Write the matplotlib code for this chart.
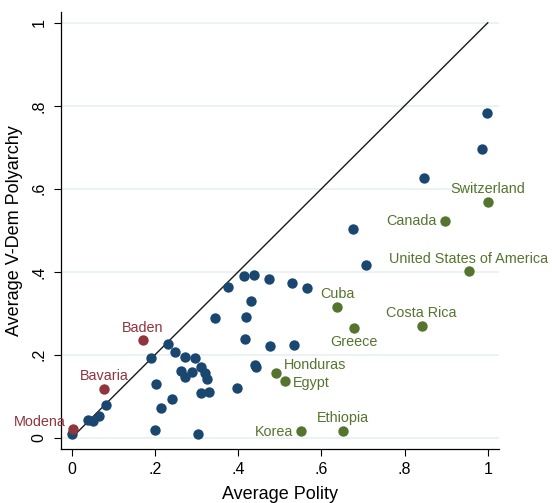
import numpy as np
import matplotlib
matplotlib.use("Agg")
import matplotlib.pyplot as plt

plt.rcParams['font.family'] = ['Liberation Sans', 'DejaVu Sans']

# unlabelled countries (navy)
other_polity = [0.998, 0.987, 0.847, 0.677, 0.707, 0.415, 0.437, 0.474, 0.530, 0.566,
                0.376, 0.431, 0.344, 0.419, 0.417, 0.476, 0.535, 0.231, 0.249, 0.191,
                0.272, 0.297, 0.310, 0.320, 0.324, 0.263, 0.271, 0.289, 0.440, 0.443,
                0.202, 0.310, 0.329, 0.397, 0.241, 0.215, 0.200, 0.303, 0.000, 0.040,
                0.052, 0.066, 0.082]
other_vdem = [0.782, 0.697, 0.625, 0.503, 0.417, 0.390, 0.393, 0.382, 0.372, 0.361,
              0.364, 0.329, 0.288, 0.292, 0.239, 0.221, 0.223, 0.225, 0.206, 0.192,
              0.194, 0.192, 0.170, 0.155, 0.142, 0.161, 0.147, 0.158, 0.175, 0.171,
              0.129, 0.109, 0.110, 0.121, 0.093, 0.071, 0.019, 0.010, 0.009, 0.043,
              0.041, 0.052, 0.079]

# labelled countries (green)
country_names = ["Switzerland", "Canada", "United States of America", "Cuba", "Costa Rica",
                 "Greece", "Honduras", "Egypt", "Korea", "Ethiopia"]
country_polity = [1.000, 0.897, 0.955, 0.638, 0.841, 0.679, 0.492, 0.512, 0.550, 0.652]
country_vdem = [0.567, 0.523, 0.402, 0.315, 0.270, 0.264, 0.155, 0.137, 0.017, 0.017]

# labelled German/Italian states (maroon)
state_names = ["Baden", "Bavaria", "Modena"]
state_polity = [0.171, 0.077, 0.002]
state_vdem = [0.235, 0.118, 0.020]

# label placement: (dx, dy in points, ha)
label_pos = {
    "Switzerland": (0, 9.5, "center"),
    "Canada": (-6, -0.5, "right"),
    "United States of America": (0, 8.8, "center"),
    "Cuba": (0, 9.5, "center"),
    "Costa Rica": (0, 9.5, "center"),
    "Greece": (0, -10, "center"),
    "Honduras": (5.5, 6, "left"),
    "Egypt": (6, -1.2, "left"),
    "Korea": (-5.5, -0.8, "right"),
    "Ethiopia": (0, 9, "center"),
    "Baden": (0, 9, "center"),
    "Bavaria": (0, 9, "center"),
    "Modena": (-5.2, 5.3, "right"),
}

navy = "#1a476f"
green = "#55752f"
maroon = "#90353b"

fig = plt.figure(figsize=(5.52, 5.03), dpi=100)
ax = fig.add_axes([61 / 552, 1 - 449 / 503, 438 / 552, 437 / 503])

for yv in [0, 0.2, 0.4, 0.6, 0.8, 1.0]:
    ax.axhline(yv, color="#e6eff1", lw=1.1, zorder=0)

ms = 56
ax.scatter(other_polity, other_vdem, s=ms, color=navy, lw=0, zorder=3)
ax.scatter(country_polity, country_vdem, s=ms, color=green, lw=0, zorder=3)
ax.scatter(state_polity, state_vdem, s=ms, color=maroon, lw=0, zorder=3)

for names, xs, ys, col in [(country_names, country_polity, country_vdem, green),
                           (state_names, state_polity, state_vdem, maroon)]:
    for n, x, y in zip(names, xs, ys):
        dx, dy, ha = label_pos[n]
        ax.annotate(n, (x, y), xytext=(dx, dy), textcoords="offset points",
                    ha=ha, va="center", fontsize=10.4, color=col, zorder=4)

ax.plot([0, 1], [0, 1], color="#1a1a1a", lw=1.0, zorder=2)

ax.set_xlim(-0.026, 1.027)
ax.set_ylim(-0.027, 1.026)
ticks = [0, 0.2, 0.4, 0.6, 0.8, 1.0]
tick_labels = ["0", ".2", ".4", ".6", ".8", "1"]
ax.set_xticks(ticks)
ax.set_xticklabels(tick_labels)
ax.set_yticks(ticks)
ax.set_yticklabels(tick_labels, rotation=90, va="center")
ax.tick_params(labelsize=11.5, length=5, width=0.8, color="black")
ax.tick_params(axis="x", pad=4.5)
ax.tick_params(axis="y", pad=5.5)

for s in ["top", "right"]:
    ax.spines[s].set_visible(False)
for s in ["left", "bottom"]:
    ax.spines[s].set_linewidth(0.9)

ax.set_xlabel("Average Polity", fontsize=13, labelpad=6)
ax.set_ylabel("Average V-Dem Polyarchy", fontsize=13, labelpad=6)

fig.savefig("out.png", dpi=100)
